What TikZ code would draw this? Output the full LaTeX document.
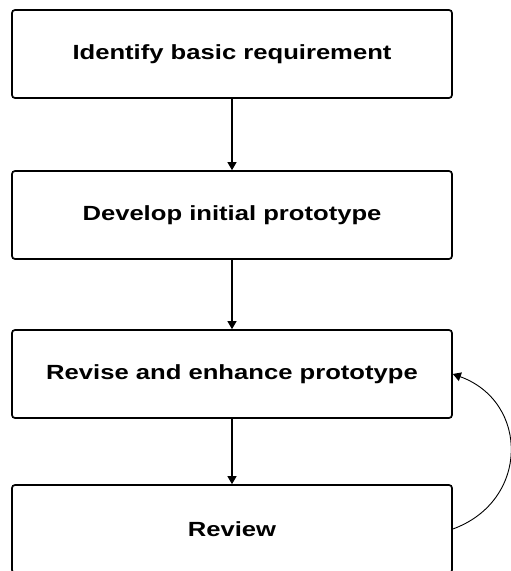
\documentclass[tikz,border=0pt]{standalone}
\usepackage{fontspec}
\setmainfont{Liberation Sans}
\newfontfamily\stagefont[FakeStretch=1.25]{Liberation Sans Bold}
\usepackage{tikz}
\usetikzlibrary{arrows.meta,positioning}

\begin{document}
\begin{tikzpicture}[x=1pt, y=1pt,
  stage/.style={draw, line width=1.7pt, rounded corners=3pt, fill=white,
    minimum width=440pt, minimum height=88pt, font=\stagefont\fontsize{20.5}{24}\selectfont},
  flow/.style={line width=1.1pt, -{Triangle[width=9pt,length=8pt]}}]
\useasboundingbox[fill=white] (0,0) rectangle (511,571);

% the four steps
\node[stage] (ident) at (232,517) {Identify basic requirement};
\node[stage] (develop) at (232,356) {Develop initial prototype};
\node[stage] (revise) at (232,197) {Revise and enhance prototype};
\node[stage] (review) at (232,42) {Review};

% straight arrows
\draw[flow] (ident) -- (develop);
\draw[flow] (develop) -- (revise);
\draw[flow] (revise) -- (review);

% loop back
\draw[flow, line width=0.9pt] (review.east) to[out=20, in=-20, looseness=1.35] (revise.east);
\end{tikzpicture}
\end{document}
